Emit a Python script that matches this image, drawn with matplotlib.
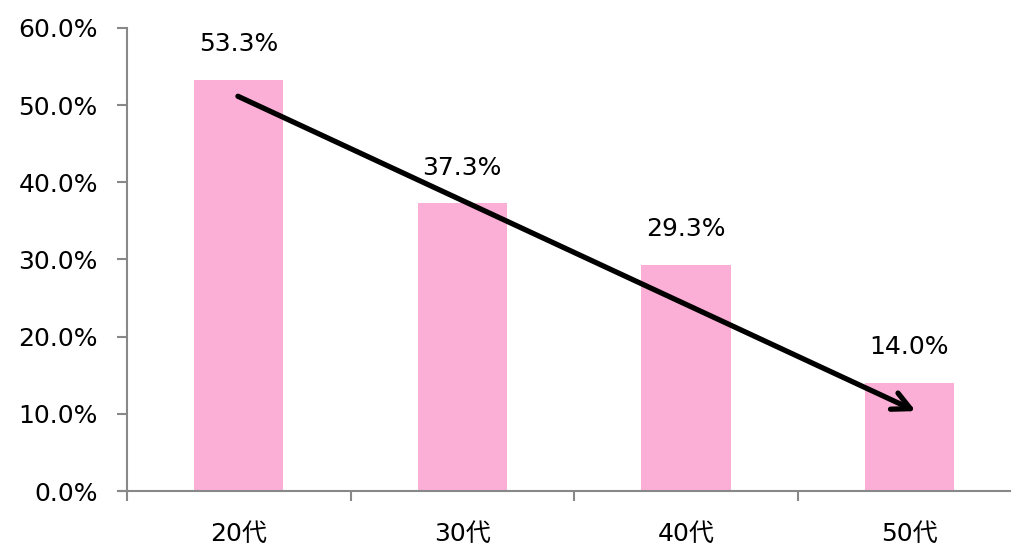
import matplotlib.pyplot as plt

plt.rcParams['font.family'] = ['DejaVu Sans', 'Noto Sans CJK JP']

ages = ['20代', '30代', '40代', '50代']
rates = [53.3, 37.3, 29.3, 14.0]
labels = ['53.3%', '37.3%', '29.3%', '14.0%']
ticks = [0, 10, 20, 30, 40, 50, 60]

fig = plt.figure(figsize=(10.16, 5.48), dpi=100)
ax = fig.add_axes([0.125, 0.104, 0.869, 0.845])

x = range(len(ages))
ax.bar(x, rates, width=0.4, color='#fbafd6')
for i in x:
    ax.annotate(labels[i], (i, rates[i]), xytext=(0, 17), textcoords='offset points',
                ha='center', va='bottom', fontsize=18)

# trend arrow
ax.annotate('', xy=(3.04, 10.2), xytext=(-0.015, 51.3),
            arrowprops=dict(arrowstyle='->', lw=3.8, color='black',
                            mutation_scale=32, capstyle='round'))

ax.set_xlim(-0.5, 3.45)
ax.set_ylim(0, 60)
ax.set_yticks(ticks)
ax.set_yticklabels(['%.1f%%' % t for t in ticks], fontsize=18)
ax.set_xticks([-0.5, 0.5, 1.5, 2.5])
ax.set_xticklabels([])
ax.set_xticks(list(x), minor=True)
ax.set_xticklabels(ages, minor=True, fontsize=18)
ax.tick_params(axis='x', which='minor', length=0, pad=22)
ax.tick_params(axis='x', which='major', length=7, color='#888888', width=1.5)
ax.tick_params(axis='y', length=7, color='#888888', width=1.5, pad=14)
for s in ['top', 'right']:
    ax.spines[s].set_visible(False)
for s in ['left', 'bottom']:
    ax.spines[s].set_color('#888888')
    ax.spines[s].set_linewidth(1.5)
ax.spines['bottom'].set_bounds(-0.53, 3.45)

plt.savefig('out.png')
